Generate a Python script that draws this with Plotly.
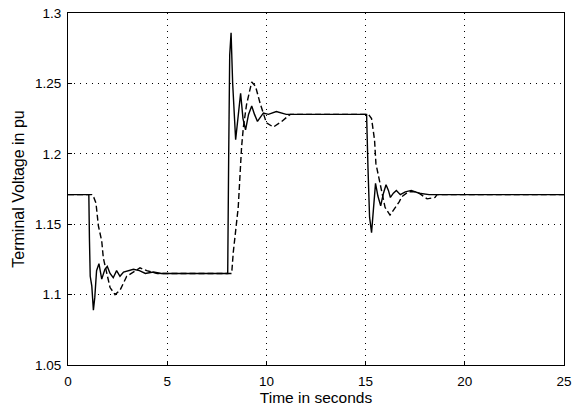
import plotly.graph_objects as go

# Solid trace (time s, voltage pu)
solid_t = [0, 1.05, 1.08, 1.12, 1.2, 1.28, 1.35, 1.44, 1.56, 1.7, 1.86, 1.98, 2.12, 2.28, 2.45,
           2.62, 2.8, 3.0, 3.3, 3.6, 3.9, 4.3, 4.7, 5.5, 8.05, 8.1, 8.15, 8.22, 8.3, 8.45, 8.58,
           8.7, 8.82, 8.95, 9.1, 9.26, 9.4, 9.55, 9.7, 9.85, 10.1, 10.5, 11, 12, 15.05, 15.12,
           15.2, 15.3, 15.4, 15.5, 15.62, 15.76, 15.9, 16.03, 16.15, 16.25, 16.4, 16.55, 16.75,
           17.0, 17.3, 17.7, 18.2, 25]
solid_v = [1.171, 1.171, 1.14, 1.113, 1.106, 1.089, 1.098, 1.117, 1.122, 1.111, 1.118, 1.12,
           1.115, 1.112, 1.117, 1.113, 1.116, 1.117, 1.118, 1.117, 1.115, 1.116, 1.115, 1.115,
           1.115, 1.2, 1.27, 1.286, 1.25, 1.21, 1.228, 1.243, 1.225, 1.217, 1.228, 1.234, 1.228,
           1.223, 1.226, 1.229, 1.228, 1.23, 1.228, 1.228, 1.228, 1.19, 1.155, 1.144, 1.16,
           1.179, 1.17, 1.163, 1.172, 1.178, 1.174, 1.169, 1.172, 1.174, 1.171, 1.173, 1.174,
           1.172, 1.171, 1.171]

# Dashed trace
dash_t = [0, 1.2, 1.3, 1.41, 1.53, 1.7, 1.78, 1.95, 2.12, 2.37, 2.62, 2.96, 3.29, 3.63, 3.97,
          4.5, 5, 8.25, 8.33, 8.45, 8.58, 8.75, 8.84, 9.0, 9.26, 9.45, 9.68, 10.0, 10.35, 10.77,
          11.2, 12, 15.15, 15.3, 15.45, 15.52, 15.69, 15.81, 15.98, 16.23, 16.48, 16.7, 16.82,
          17.15, 17.6, 18.0, 18.1, 18.5, 18.6, 19, 25]
dash_v = [1.171, 1.171, 1.169, 1.165, 1.149, 1.138, 1.126, 1.115, 1.105, 1.1, 1.103, 1.113,
          1.116, 1.119, 1.117, 1.115, 1.115, 1.115, 1.13, 1.145, 1.162, 1.205, 1.219, 1.235,
          1.251, 1.248, 1.236, 1.222, 1.219, 1.223, 1.228, 1.228, 1.228, 1.225, 1.21, 1.193,
          1.181, 1.172, 1.162, 1.1565, 1.1615, 1.166, 1.1695, 1.173, 1.173, 1.169, 1.168,
          1.169, 1.171, 1.171, 1.171]

x_ticks = [0, 5, 10, 15, 20, 25]
x_labels = ["0", "5", "10", "15", "20", "25"]
y_ticks = [1.05, 1.1, 1.15, 1.2, 1.25, 1.3]
y_labels = ["1.05", "1.1", "1.15", "1.2", "1.25", "1.3"]

FONT = "Liberation Sans, Arial, sans-serif"

fig = go.Figure()
fig.add_trace(go.Scatter(x=solid_t, y=solid_v, mode="lines",
                         line=dict(color="black", width=1.4), showlegend=False))
fig.add_trace(go.Scatter(x=dash_t, y=dash_v, mode="lines",
                         line=dict(color="black", width=1.4, dash="6px,3px"), showlegend=False))

axis_common = dict(showline=True, mirror=True, linecolor="black", linewidth=1,
                   showgrid=True, gridcolor="black", gridwidth=1, griddash="1px,5px",
                   ticks="inside", ticklen=4, tickcolor="black", zeroline=False,
                   automargin=False,
                   tickfont=dict(family=FONT, size=13.5, color="black"))

fig.update_xaxes(range=[0, 25], tickvals=x_ticks, ticktext=x_labels, ticklabelstandoff=4,
                 title=dict(text="Time in seconds", standoff=0,
                            font=dict(family=FONT, size=15.5, color="black")),
                 **axis_common)
fig.update_yaxes(range=[1.05, 1.3], tickvals=y_ticks, ticktext=y_labels, ticklabelstandoff=3,
                 title=dict(text="Terminal Voltage in pu", standoff=6,
                            font=dict(family=FONT, size=16, color="black")),
                 **axis_common)

fig.update_layout(width=576, height=409, margin=dict(l=68, r=12, t=13, b=44),
                  paper_bgcolor="white", plot_bgcolor="white")

fig.write_html("out.html")
